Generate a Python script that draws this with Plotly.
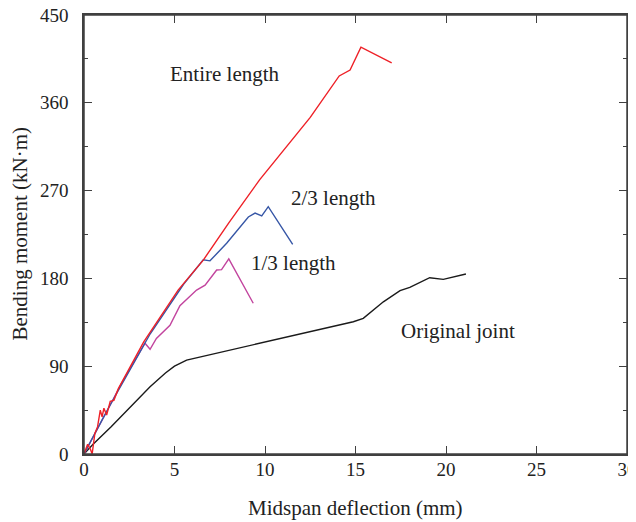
import plotly.graph_objects as go

# Data
entire_x = [0, 0.2, 0.35, 0.45, 0.6, 0.75, 0.9, 1.0, 1.1, 1.25, 1.45, 1.65, 1.9, 2.5, 3.3, 4.2, 5.2, 6.6, 8.0, 9.7, 11.1, 12.5, 14.1, 14.7, 15.3, 17.0]
entire_y = [0, 10, 5, 0, 21, 28, 45, 38, 47, 40, 54, 55, 67, 88, 115, 140, 168, 199, 237, 281, 313, 345, 387.5, 393.6, 417, 401]

two_third_x = [0, 0.5, 1.0, 1.5, 2.0, 2.8, 3.65, 4.38, 5.5, 6.59, 6.96, 7.88, 9.08, 9.45, 9.82, 10.18, 11.53]
two_third_y = [0, 18, 35, 52, 68, 95, 123, 143, 174, 199, 198, 216, 243, 247, 244, 253.5, 215]

one_third_x = [0, 0.5, 1.0, 1.5, 2.0, 2.8, 3.37, 3.65, 4.0, 4.75, 5.3, 6.22, 6.69, 7.33, 7.6, 8.0, 9.35]
one_third_y = [0, 17, 35, 52, 70, 95, 113.5, 107.3, 118.5, 132, 152, 168, 173, 188.6, 189, 200, 154.5]

orig_x = [0, 0.5, 1.5, 2.5, 3.65, 4.5, 5.0, 5.67, 7.0, 8.5, 9.72, 11.93, 13.5, 14.88, 15.43, 16.54, 17.46, 18.0, 19.1, 19.85, 21.1]
orig_y = [0, 10, 28, 47, 69, 83, 90, 96.3, 102, 108, 113.5, 123, 130, 135.6, 139, 156, 167.4, 170.8, 180.7, 179, 184.5]

labels = ["Entire length", "2/3 length", "1/3 length", "Original joint"]
label_x = [7.79, 13.76, 11.55, 20.66]
label_y = [389.5, 262, 196, 126]

x_ticks = [0, 5, 10, 15, 20, 25, 30]
y_ticks = [0, 90, 180, 270, 360, 450]

FONT = "Liberation Serif"
TXT = "#222222"
AX = "#404040"

fig = go.Figure()
series = [
    (orig_x, orig_y, "#1a1a1a"),
    (one_third_x, one_third_y, "#c2449e"),
    (two_third_x, two_third_y, "#3656a6"),
    (entire_x, entire_y, "#ee2027"),
]
for xs, ys, c in series:
    fig.add_trace(go.Scatter(x=xs, y=ys, mode="lines",
                             line=dict(color=c, width=1.4), showlegend=False))

for t, x, y in zip(labels, label_x, label_y):
    fig.add_annotation(x=x, y=y, text=t, showarrow=False,
                       font=dict(family=FONT, size=21, color=TXT),
                       xanchor="center", yanchor="middle")

axis_common = dict(showline=True, linecolor=AX, linewidth=1.5, mirror="ticks",
                   ticks="inside", tickcolor=AX, tickwidth=1.3, ticklen=8,
                   showgrid=False, zeroline=False, automargin=False,
                   ticklabeloverflow="allow",
                   tickfont=dict(family=FONT, size=19, color=TXT))

fig.update_xaxes(range=[0, 30], tickvals=x_ticks, ticktext=[str(v) for v in x_ticks],
                 ticklabelstandoff=-3,
                 **axis_common)
fig.update_yaxes(range=[0, 450], tickvals=y_ticks, ticktext=[str(v) for v in y_ticks],
                 minor=dict(ticks="inside", ticklen=4, tickcolor=AX, tickwidth=1.3, dtick=45, showgrid=False),
                 ticklabelstandoff=10,
                 **axis_common)

# Frame around the plotting area
fig.add_shape(type="rect", xref="paper", yref="paper", x0=0, y0=0, x1=1, y1=1,
              line=dict(color=AX, width=1.5), fillcolor="rgba(0,0,0,0)", layer="above")

# Axis titles placed as paper-anchored annotations
fig.add_annotation(xref="paper", yref="paper", x=0.5, y=0, yshift=-54,
                   text="Midspan deflection (mm)", showarrow=False,
                   font=dict(family=FONT, size=21, color=TXT),
                   xanchor="center", yanchor="middle")
fig.add_annotation(xref="paper", yref="paper", x=0, y=0.5, xshift=-65,
                   text="Bending moment (kN·m)", showarrow=False, textangle=-90,
                   font=dict(family=FONT, size=21, color=TXT),
                   xanchor="center", yanchor="middle")

# The page body adds an 8 px offset, so the figure is sized to fit the window
fig.update_layout(width=628, height=514, margin=dict(l=76, r=9, t=7, b=68),
                  plot_bgcolor="white", paper_bgcolor="white",
                  font=dict(family=FONT))

fig.write_html("out.html")
